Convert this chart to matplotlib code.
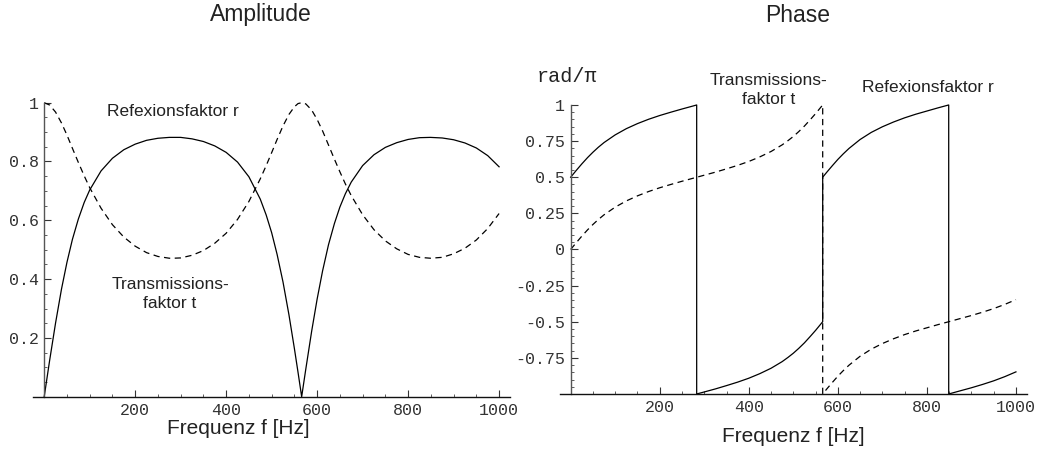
import matplotlib
matplotlib.use("Agg")
import matplotlib.pyplot as plt
from matplotlib.ticker import FixedLocator, MultipleLocator

# Werte (Frequenz in Hz)
f_amp = [0, 12, 25, 38, 50, 62, 75, 88, 100, 125, 150, 175, 200, 225, 250, 275, 283,
         300, 325, 350, 375, 400, 425, 450, 475, 488, 500, 512, 525, 538, 550, 558, 566,
         575, 588, 600, 612, 625, 638, 650, 662, 675, 700, 725, 750, 775, 800, 825, 849,
         875, 900, 925, 950, 975, 1000]
r_amp = [0, .124, .251, .366, .457, .535, .604, .661, .703, .768, .811, .840, .859, .872, .879, .882, .882,
         .882, .877, .868, .853, .831, .798, .748, .672, .618, .558, .484, .390, .279, .164, .083, 0,
         .093, .223, .332, .428, .517, .589, .645, .690, .730, .786, .823, .848, .864, .875, .881, .882,
         .880, .874, .863, .846, .820, .782]
t_amp = [1, .992, .968, .931, .890, .845, .797, .751, .711, .641, .585, .543, .512, .490, .477, .471, .471,
         .472, .481, .497, .522, .556, .603, .664, .741, .786, .830, .875, .921, .960, .986, .997, 1,
         .996, .975, .943, .904, .856, .808, .765, .724, .684, .619, .568, .530, .503, .484, .474, .471,
         .474, .486, .505, .533, .572, .623]

# Phase in rad/pi, Spruenge als doppelte Frequenzwerte
f_phr = [0, 12, 25, 38, 50, 62, 75, 100, 125, 150, 175, 200, 225, 250, 275, 283, 283,
         300, 325, 350, 375, 400, 425, 450, 475, 488, 500, 512, 525, 538, 550, 558, 566, 566,
         575, 588, 600, 612, 625, 650, 675, 700, 725, 750, 775, 800, 825, 849, 849,
         875, 900, 925, 950, 975, 1000]
ph_r = [.5, .545, .592, .636, .673, .707, .740, .793, .836, .871, .901, .927, .950, .972, .993, 1, -1,
        -.986, -.965, -.942, -.918, -.891, -.859, -.822, -.776, -.747, -.718, -.685, -.646, -.602, -.560, -.530, -.5, .5,
        .534, .581, .623, .661, .699, .761, .810, .849, .882, .911, .936, .958, .980, 1, -1,
        -.978, -.957, -.934, -.909, -.880, -.847]
f_pht = [0, 12, 25, 38, 50, 62, 75, 100, 125, 150, 175, 200, 225, 250, 275,
         300, 325, 350, 375, 400, 425, 450, 475, 488, 500, 512, 525, 538, 550, 558, 566, 566,
         575, 588, 600, 612, 625, 650, 675, 700, 725, 750, 775, 800, 825, 849,
         875, 900, 925, 950, 975, 1000]
ph_t = [0, .045, .092, .136, .173, .207, .240, .293, .336, .371, .401, .427, .450, .472, .493,
        .514, .535, .558, .582, .609, .641, .678, .724, .753, .782, .815, .854, .898, .940, .970, 1, -1,
        -.966, -.919, -.877, -.839, -.801, -.739, -.690, -.651, -.618, -.589, -.564, -.542, -.520, -.5,
        -.478, -.457, -.434, -.409, -.380, -.347]

x_ticks = [200, 400, 600, 800, 1000]
x_labels = ["200", "400", "600", "800", "1000"]
amp_ticks = [0.2, 0.4, 0.6, 0.8, 1.0]
amp_labels = ["0.2", "0.4", "0.6", "0.8", "1"]
ph_ticks = [1, 0.75, 0.5, 0.25, 0, -0.25, -0.5, -0.75]
ph_labels = ["1", "0.75", "0.5", "0.25", "0", "-0.25", "-0.5", "-0.75"]

mono = ["Liberation Mono", "DejaVu Sans Mono"]
sans = ["Liberation Sans", "DejaVu Sans"]
txt_col = "#222222"
dash = (5.0, 3.6)

fig = plt.figure(figsize=(10.37, 4.54), dpi=100)
ax1 = fig.add_axes([0.0321, 0.1262, 0.4597, 0.6476])
ax2 = fig.add_axes([0.5400, 0.1322, 0.4500, 0.6366])


def achsen(ax, ymin, ymax, yticks, ylabels):
    # Mathematica-artige Achsen: nur x- und y-Achse, Ticks nach innen
    ax.set_xlim(-24, 1024)
    ax.set_ylim(ymin, ymax)
    for s in ["top", "right"]:
        ax.spines[s].set_visible(False)
    ax.spines["left"].set_position(("data", 0))
    ax.spines["left"].set_bounds(ymin, ymax)
    ax.spines["left"].set_color("#555555")
    ax.spines["bottom"].set_color("#111111")
    ax.spines["left"].set_linewidth(1.0)
    ax.spines["bottom"].set_linewidth(1.0)
    ax.patch.set_visible(False)
    ax.xaxis.set_major_locator(FixedLocator(x_ticks))
    ax.set_xticklabels(x_labels)
    ax.xaxis.set_minor_locator(MultipleLocator(50))
    ax.yaxis.set_major_locator(FixedLocator(yticks))
    ax.set_yticklabels(ylabels)
    ax.yaxis.set_minor_locator(MultipleLocator(0.05))
    ax.tick_params(which="major", direction="in", length=5, width=0.8,
                   color="#333333", labelcolor="#333333", labelsize=12)
    ax.tick_params(which="minor", direction="in", length=2.5, width=0.6,
                   color="#444444")
    ax.tick_params(axis="x", pad=4.5)
    ax.tick_params(axis="y", pad=4)
    for lab in ax.get_xticklabels() + ax.get_yticklabels():
        lab.set_family(mono)


# Amplitude
ax1.plot(f_amp, r_amp, color="black", lw=0.9, clip_on=False)
ax1.plot(f_amp, t_amp, color="black", lw=0.9, dashes=dash, clip_on=False)
achsen(ax1, 0, 1, amp_ticks, amp_labels)

# Phase
ax2.plot(f_phr, ph_r, color="black", lw=0.9, clip_on=False)
ax2.plot(f_pht, ph_t, color="black", lw=0.9, dashes=dash, clip_on=False)
achsen(ax2, -1, 1, ph_ticks, ph_labels)


def ftext(x, y, s, size, family=sans, **kw):
    fig.text(x / 1037, 1 - y / 454, s, fontsize=size, family=family,
             color=txt_col, ha="center", va="center", **kw)


ftext(261, 15, "Amplitude", 16.5)
ftext(798, 15, "Phase", 16.5)
ftext(238, 428, "Frequenz f [Hz]", 15)
ftext(793, 437, "Frequenz f [Hz]", 15)
ftext(567, 76, "rad/\u03c0", 14.5, family=mono)

ftext(173, 112, "Refexionsfaktor r", 12.5)
ftext(170, 294, "Transmissions-\nfaktor t", 12.5, linespacing=1.3)
ftext(769, 90, "Transmissions-\nfaktor t", 12.5, linespacing=1.3)
ftext(928, 88, "Refexionsfaktor r", 12.5)

fig.savefig("out.png", dpi=100)
